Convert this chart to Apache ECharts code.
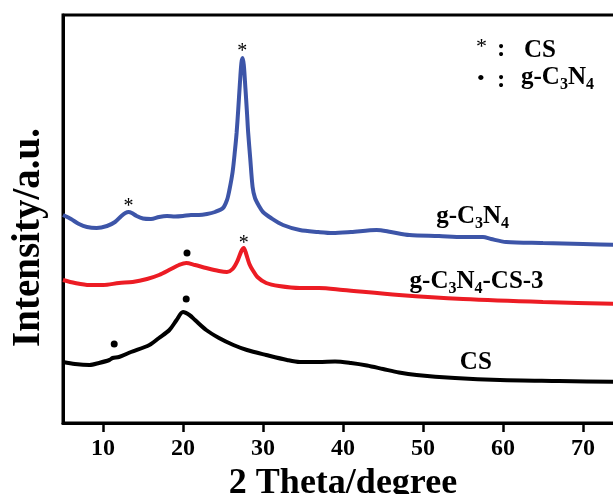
<!DOCTYPE html>
<html>
<head>
<meta charset="utf-8">
<script src="https://cdn.jsdelivr.net/npm/echarts@6/dist/echarts.min.js"></script>
<style>
html,body{margin:0;padding:0;background:#fff;}
#chart{width:613px;height:494px;}
</style>
</head>
<body>
<div id="chart"></div>
<script>
// 2θ (degree), intensity (a.u.)
const gc3n4Data = [[5,208],[6,204],[7,199],[8,196],[9.2,195],[10.5,197],[11.5,201],[12.3,207],[12.8,210],[13.2,211],[13.6,210],[14.2,207],[15,204.5],[16,204],[17,206],[18,207],[19,206.5],[20,207],[21,208],[22,208],[23,209],[24,211],[25,215],[25.5,223],[25.8,233],[26.2,251],[26.5,273],[26.7,290],[26.9,313],[27.1,338],[27.3,360],[27.45,365],[27.6,358],[27.8,335],[28.0,310],[28.15,290],[28.4,265],[28.7,236],[29.0,225],[29.5,217],[30,211],[31,205],[32.5,198],[34.6,193],[36.9,191],[38.7,190],[41,191],[44.2,193],[46,191],[48.3,188],[52,187],[55,186],[57.5,186],[58.5,184],[60.4,181],[65,180],[70,179],[75,178]];
const compositeData = [[5,143],[6.5,140],[8.3,138],[10,138],[12,140],[13.7,141],[15.5,144],[17,148],[18.5,154],[19.5,158],[20.4,160],[21.5,158],[22.9,155],[24.5,152],[25.5,151],[26.2,154],[26.8,162],[27.3,172],[27.6,175],[27.9,169],[28.3,159],[28.7,153],[29.3,146],[30.4,140],[32,137],[34.6,135],[37,135],[40,133],[47,128],[55,124],[65,121],[75,119]];
const csData = [[5,61],[6.5,59],[8.3,58],[9.5,60],[10.8,63],[11.2,65],[12,66],[13.5,71],[15.8,78],[17,85],[18.3,93],[19.2,103],[20,111],[20.8,108],[21.5,103],[22.9,93],[24.5,85],[26.3,78],[28,73],[30.4,68],[33,63],[34.6,61],[37,61],[39,61.5],[41,60],[43,57.5],[45,54],[47,50.5],[49.2,48],[54,45],[59.6,43],[67,42],[75,41]];
// peak markers
const csPeakMarks = [[13.2,220],[27.4,375],[27.6,183]];     // "*"
const gc3n4PeakMarks = [[20.5,170],[20.4,124],[11.4,79]];   // "•"
// curve labels
const curveLabels = [
  {name:'g-C{s|3}N{s|4}', value:[56.2,206.5]},
  {name:'g-C{s|3}N{s|4}-CS-3', value:[56.7,141]},
  {name:'CS', value:[56.6,60]}
];
const xTicks = [10,20,30,40,50,60,70];

const FONT = '"Liberation Serif","Times New Roman",serif';
const chart = echarts.init(document.getElementById('chart'));
const richStyle = {
  m:{fontFamily:FONT,fontWeight:'bold',fontSize:25,color:'#000',lineHeight:30,verticalAlign:'middle',textBorderWidth:0},
  s:{fontFamily:FONT,fontWeight:'bold',fontSize:16,color:'#000',verticalAlign:'bottom',padding:[8,0,0,0],textBorderWidth:0}
};
function mainWrap(str){
  return str.split(/(\{s\|[^}]*\})/).filter(p=>p.length).map(p=>p.startsWith('{s|')?p:'{m|'+p+'}').join('');
}
chart.setOption({
  animation:false,
  backgroundColor:'#fff',
  grid:{left:63,top:15,right:-10,bottom:71,containLabel:false,outerBoundsMode:'none',
    show:true,borderColor:'#000',borderWidth:3,backgroundColor:'transparent'},
  xAxis:{
    type:'value',min:5,max:75,interval:5,
    name:'2 Theta/degree',nameLocation:'middle',nameGap:34,
    nameTextStyle:{fontFamily:FONT,fontWeight:'bold',fontSize:36,color:'#000'},
    axisLine:{show:true,onZero:false,lineStyle:{color:'#000',width:3}},
    axisTick:{show:true,length:9,lineStyle:{color:'#000',width:2.5},
      customValues:xTicks},
    axisLabel:{margin:14,fontFamily:FONT,fontWeight:'bold',fontSize:24,color:'#000',
      customValues:xTicks},
    splitLine:{show:false}
  },
  yAxis:{
    type:'value',min:0,max:408,
    name:'Intensity/a.u.',nameLocation:'middle',nameGap:15,
    nameTextStyle:{fontFamily:FONT,fontWeight:'bold',fontSize:39,color:'#000',padding:[0,37,0,0]},
    axisLine:{show:true,onZero:false,lineStyle:{color:'#000',width:3}},
    axisTick:{show:false},axisLabel:{show:false},splitLine:{show:false}
  },
  series:[
    {name:'g-C3N4',type:'line',data:gc3n4Data,showSymbol:false,smooth:0.3,
      lineStyle:{color:'#3d55a8',width:4},z:3},
    {name:'g-C3N4-CS-3',type:'line',data:compositeData,showSymbol:false,smooth:0.3,
      lineStyle:{color:'#ec1c24',width:4},z:3},
    {name:'CS',type:'line',data:csData,showSymbol:false,smooth:0.3,
      lineStyle:{color:'#000',width:4},z:3},
    {name:'CS peaks',type:'scatter',data:csPeakMarks,symbolSize:0,itemStyle:{opacity:1},
      label:{show:true,position:'inside',formatter:'*',fontFamily:FONT,fontSize:20,color:'#000',textBorderWidth:0,offset:[0,4]},z:5},
    {name:'g-C3N4 peaks',type:'scatter',data:gc3n4PeakMarks,symbol:'circle',symbolSize:7,
      itemStyle:{color:'#000',opacity:1},z:5},
    {name:'labels',type:'scatter',data:curveLabels,symbolSize:0,itemStyle:{opacity:1},
      label:{show:true,position:'inside',color:'#000',textBorderWidth:0,formatter:p=>mainWrap(p.name),rich:richStyle},z:5}
  ],
  graphic:[
    {type:'text',left:476,top:36,style:{text:'*',fontFamily:FONT,fontSize:22,fill:'#000'}},
    {type:'text',left:497,top:37,style:{text:':',fontFamily:FONT,fontWeight:'bold',fontSize:25,fill:'#000'}},
    {type:'text',left:524,top:38,style:{text:'CS',fontFamily:FONT,fontWeight:'bold',fontSize:25,fill:'#000'}},
    {type:'text',left:477,top:68,style:{text:'•',fontFamily:FONT,fontSize:22,fill:'#000'}},
    {type:'text',left:497,top:68,style:{text:':',fontFamily:FONT,fontWeight:'bold',fontSize:25,fill:'#000'}},
    {type:'text',left:521,top:65,style:{text:'{m|g-C}{s|3}{m|N}{s|4}',rich:richStyle}}
  ]
});
</script>
</body>
</html>
